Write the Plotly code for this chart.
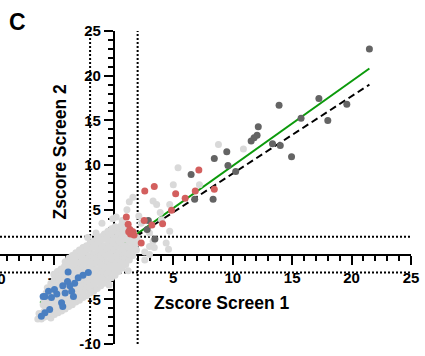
import plotly.graph_objects as go

# ---------------- data ----------------
# light gray: bulk of genes (dense cloud around the origin + a few scattered)
gray_x = [
    -6.1, -6.0,
    -5.9, -5.85, -5.95, -5.9,
    -5.6, -5.65, -5.55, -5.6, -5.7, -5.6,
    -5.3, -5.35, -5.25, -5.3, -5.2, -5.35, -5.3,
    -5.0, -5.05, -4.95, -5.0, -5.1, -4.95, -5.0, -5.05,
    -4.7, -4.75, -4.65, -4.7, -4.8, -4.7, -4.65, -4.75,
    -4.4, -4.45, -4.35, -4.4, -4.5, -4.4, -4.35, -4.45,
    -4.1, -4.15, -4.05, -4.1, -4.2, -4.1, -4.05, -4.15, -4.1,
    -3.8, -3.85, -3.75, -3.8, -3.9, -3.8, -3.75, -3.85, -3.8,
    -3.5, -3.55, -3.45, -3.5, -3.6, -3.5, -3.45, -3.55, -3.5,
    -3.2, -3.25, -3.15, -3.2, -3.3, -3.2, -3.15, -3.25, -3.2,
    -2.9, -2.95, -2.85, -2.9, -3.0, -2.9, -2.85, -2.95, -2.9,
    -2.6, -2.65, -2.55, -2.6, -2.7, -2.6, -2.55, -2.65, -2.6,
    -2.3, -2.35, -2.25, -2.3, -2.4, -2.3, -2.25, -2.35, -2.3,
    -2.0, -2.05, -1.95, -2.0, -2.1, -2.0, -1.95, -2.05, -2.0,
    -1.7, -1.75, -1.65, -1.7, -1.8, -1.7, -1.65, -1.75, -1.7,
    -1.4, -1.45, -1.35, -1.4, -1.5, -1.4, -1.35, -1.45, -1.4,
    -1.1, -1.15, -1.05, -1.1, -1.2, -1.1, -1.05, -1.15, -1.1,
    -0.8, -0.85, -0.75, -0.8, -0.9, -0.8, -0.75, -0.85, -0.8,
    -0.5, -0.55, -0.45, -0.5, -0.6, -0.5, -0.45, -0.55, -0.5,
    -0.2, -0.25, -0.15, -0.2, -0.3, -0.2, -0.15, -0.25, -0.2,
    0.1, 0.05, 0.15, 0.1, 0.0, 0.1, 0.15, 0.05, 0.1,
    0.4, 0.35, 0.45, 0.4, 0.3, 0.4, 0.45, 0.35,
    0.7, 0.65, 0.75, 0.7, 0.6, 0.7, 0.75, 0.65,
    1.0, 0.95, 1.05, 1.0, 0.9, 1.0, 1.05,
    1.3, 1.25, 1.35, 1.3, 1.2, 1.3,
    1.6, 1.55, 1.65, 1.6, 1.5,
    1.9, 1.85, 1.95,
    # scattered
    -2.2, -1.5, -1.0, -0.1, 0.2, 0.7, 1.1, 1.3, 1.6, 2.3, 2.1,
    3.0, 3.3, 3.0, 3.4, 4.4, 4.7, 4.6, 3.0, 3.6, 3.3, 4.7, 3.9, 4.0,
    5.4, 7.2, 5.0, 8.8, 10.9, 2.6, 1.2, -0.4, 2.6, -6.4, -6.3,
]
gray_y = [
    -7.2, -6.6,
    -7.0, -6.3, -5.6, -5.0,
    -6.9, -6.2, -5.5, -4.9, -4.3, -3.7,
    -7.1, -6.5, -5.8, -5.2, -4.5, -3.9, -3.2,
    -6.7, -6.1, -5.4, -4.7, -4.1, -3.4, -2.8, -2.2,
    -6.5, -5.9, -5.2, -4.5, -3.8, -3.1, -2.5, -1.9,
    -6.3, -5.6, -4.9, -4.2, -3.5, -2.8, -2.2, -1.6,
    -6.1, -5.4, -4.7, -4.0, -3.3, -2.6, -2.0, -1.3, -0.8,
    -5.8, -5.1, -4.4, -3.7, -3.0, -2.3, -1.7, -1.0, -0.4,
    -5.6, -4.9, -4.2, -3.5, -2.8, -2.1, -1.4, -0.8, -0.1,
    -5.3, -4.6, -3.9, -3.2, -2.5, -1.8, -1.1, -0.5, 0.2,
    -5.1, -4.4, -3.7, -3.0, -2.3, -1.6, -0.9, -0.2, 0.5,
    -4.8, -4.1, -3.4, -2.7, -2.0, -1.3, -0.6, 0.1, 0.8,
    -4.6, -3.9, -3.2, -2.5, -1.8, -1.1, -0.4, 0.3, 1.0,
    -4.3, -3.6, -2.9, -2.2, -1.5, -0.8, -0.1, 0.6, 1.3,
    -4.1, -3.4, -2.7, -2.0, -1.3, -0.6, 0.1, 0.8, 1.5,
    -3.8, -3.1, -2.4, -1.7, -1.0, -0.3, 0.4, 1.1, 1.8,
    -3.5, -2.8, -2.1, -1.4, -0.7, 0.0, 0.7, 1.4, 2.0,
    -3.2, -2.5, -1.8, -1.1, -0.4, 0.3, 1.0, 1.7, 2.3,
    -2.9, -2.2, -1.5, -0.8, -0.1, 0.6, 1.3, 2.0, 2.6,
    -2.6, -1.9, -1.2, -0.5, 0.2, 0.9, 1.6, 2.3, 2.9,
    -2.3, -1.6, -0.9, -0.2, 0.5, 1.2, 1.9, 2.6, 3.1,
    -1.9, -1.2, -0.5, 0.2, 0.9, 1.6, 2.3, 3.0,
    -1.5, -0.8, -0.1, 0.6, 1.3, 2.0, 2.7, 3.3,
    -1.1, -0.4, 0.3, 1.0, 1.7, 2.4, 3.0,
    -0.6, 0.1, 0.8, 1.5, 2.2, 2.9,
    -0.1, 0.6, 1.3, 2.0, 2.6,
    0.5, 1.2, 1.9,
    # scattered
    1.9, 2.4, 3.5, 4.0, 4.2, 3.8, 5.0, 5.9, 6.4, 3.5, 4.3,
    2.4, 1.5, 0.9, 0.8, 1.3, 2.6, 0.6, 0.0, 5.6, 6.0, 5.6, 4.7, 3.9,
    9.7, 7.8, 7.8, 12.3, 11.8, -0.6, -1.8, -3.4, 0.3, -7.2, -6.6,
]

# dark gray: hits in both screens
dark_x = [21.5, 17.25, 19.6, 18.0, 15.75, 13.9, 12.15, 12.05, 11.55, 11.8,
          13.35, 14.0, 14.95, 9.5, 8.45, 9.6, 10.25, 6.5, 8.35, 6.8,
          2.9, 3.45, 2.8]
dark_y = [23.0, 17.45, 16.8, 15.0, 15.25, 16.7, 14.3, 13.35, 12.7, 13.05,
          12.4, 12.2, 10.95, 11.5, 10.75, 9.95, 9.3, 8.95, 6.2, 6.2,
          3.8, 1.75, 2.8]

# red: enriched
red_x = [7.15, 2.6, 3.4, 5.2, 6.0, 6.85, 8.45, 4.85, 1.05, 1.2, 2.55, 3.2,
         4.1, 1.35, 1.6, 1.4, 1.7, 1.25, 2.3]
red_y = [9.45, 7.1, 7.6, 6.8, 6.3, 7.1, 7.3, 4.95, 4.2, 3.4, 3.8, 3.3,
         3.45, 2.8, 2.55, 2.3, 2.2, 2.55, 1.3]

# blue: depleted
blue_x = [-2.15, -3.85, -3.0, -3.3, -3.7, -3.55, -4.3, -4.1, -5.0, -5.5,
          -5.8, -5.25, -4.4, -4.3, -5.4, -5.8, -6.1, -3.4, -5.95, -4.8,
          -3.9, -2.6]
blue_y = [-2.0, -1.95, -2.6, -3.2, -3.5, -4.1, -3.5, -4.3, -3.9, -4.1,
          -4.7, -4.8, -5.4, -5.8, -6.15, -6.5, -6.9, -4.7, -4.7, -4.4,
          -3.0, -2.3]

# regression (green) and reference (dashed) lines: end points
fit_x = [-6.2, 21.5]
fit_y = [-5.4, 20.8]
ref_x = [1.9, 21.5]
ref_y = [2.05, 19.0]

threshold = 2
x_range = [-9.58, 25]
y_range = [-10, 25]
x_tickvals = [-10, -5, 0, 5, 10, 15, 20, 25]
x_ticktext = ["-10", "-5", "", "5", "10", "15", "20", "25"]
y_tickvals = [-10, -5, 0, 5, 10, 15, 20, 25]
y_ticktext = ["-10", "-5", "", "5", "10", "15", "20", "25"]

# ---------------- figure ----------------
W, H = 425, 356
ml, mr, mt, mb = 0, 14, 31, 12
pw, ph = W - ml - mr, H - mt - mb

FONT = "Arial, Liberation Sans, Helvetica, sans-serif"
MS = 7

fig = go.Figure()
fig.add_trace(go.Scatter(x=fit_x, y=fit_y, mode="lines",
                         line=dict(color="#0b9a0b", width=2), hoverinfo="skip"))
fig.add_trace(go.Scatter(x=ref_x, y=ref_y, mode="lines",
                         line=dict(color="black", width=2, dash="7px,4px"), hoverinfo="skip"))
fig.add_trace(go.Scatter(x=gray_x, y=gray_y, mode="markers",
                         marker=dict(color="#d9d9d9", size=MS, line=dict(width=0))))
fig.add_trace(go.Scatter(x=dark_x, y=dark_y, mode="markers",
                         marker=dict(color="#646464", size=MS, line=dict(width=0))))
fig.add_trace(go.Scatter(x=red_x, y=red_y, mode="markers",
                         marker=dict(color="#d35f5e", size=MS, line=dict(width=0))))
fig.add_trace(go.Scatter(x=blue_x, y=blue_y, mode="markers",
                         marker=dict(color="#4a7fc1", size=MS, line=dict(width=0))))

# dotted threshold lines
dot = dict(color="black", width=2, dash="2px,2px")
shapes = []
for t in (-threshold, threshold):
    shapes.append(dict(type="line", xref="x", yref="y", x0=t, x1=t,
                       y0=y_range[0], y1=y_range[1], line=dot, layer="below"))
    shapes.append(dict(type="line", xref="x", yref="y", x0=x_range[0], x1=x_range[1],
                       y0=t, y1=t, line=dot, layer="below"))

xpos = (0 - y_range[0]) / (y_range[1] - y_range[0])
ypos = (0 - x_range[0]) / (x_range[1] - x_range[0])

tickfont = dict(family=FONT, size=15, color="black", weight="bold")
common = dict(showgrid=False, zeroline=False, showline=True, linewidth=2,
              linecolor="black", ticks="outside", ticklen=9, tickwidth=2,
              tickcolor="black", layer="below traces", tickfont=tickfont,
              anchor="free", automargin=False,
              minor=dict(tickmode="linear", tick0=0, dtick=1, ticks="outside",
                         ticklen=5, tickwidth=2, tickcolor="black", showgrid=False))

fig.update_layout(
    width=W, height=H,
    margin=dict(l=ml, r=mr, t=mt, b=mb, pad=0),
    paper_bgcolor="white", plot_bgcolor="white",
    showlegend=False,
    xaxis=dict(range=x_range, position=xpos, tickmode="array",
               tickvals=x_tickvals, ticktext=x_ticktext, **common),
    yaxis=dict(range=y_range, position=ypos, tickmode="array",
               tickvals=y_tickvals, ticktext=y_ticktext, **common),
    shapes=shapes,
)

def px2paper(px, py):
    return (px - ml) / pw, (H - mb - py) / ph

ann = []
cx, cy = px2paper(17.5, 21.5)
ann.append(dict(text="C", x=cx, y=cy, xref="paper", yref="paper", showarrow=False,
                xanchor="center", yanchor="middle",
                font=dict(family=FONT, size=23, color="black", weight="bold")))
tx, ty = px2paper(221, 303)
ann.append(dict(text="Zscore Screen 1", x=tx, y=ty, xref="paper", yref="paper",
                showarrow=False, xanchor="center", yanchor="middle",
                font=dict(family=FONT, size=17.5, color="black", weight="bold")))
tx, ty = px2paper(59.5, 152)
ann.append(dict(text="Zscore Screen 2", x=tx, y=ty, xref="paper", yref="paper",
                showarrow=False, xanchor="center", yanchor="middle", textangle=-90,
                font=dict(family=FONT, size=17.5, color="black", weight="bold")))
# x tick label at -10 lies just outside the visible window
lx = (x_tickvals[0] - x_range[0]) / (x_range[1] - x_range[0])
_, ly = px2paper(0, 278)
ann.append(dict(text=x_ticktext[0], x=lx, y=ly, xref="paper", yref="paper",
                showarrow=False, xanchor="center", yanchor="middle",
                font=tickfont))
fig.update_layout(annotations=ann)

fig.write_html("out.html")
